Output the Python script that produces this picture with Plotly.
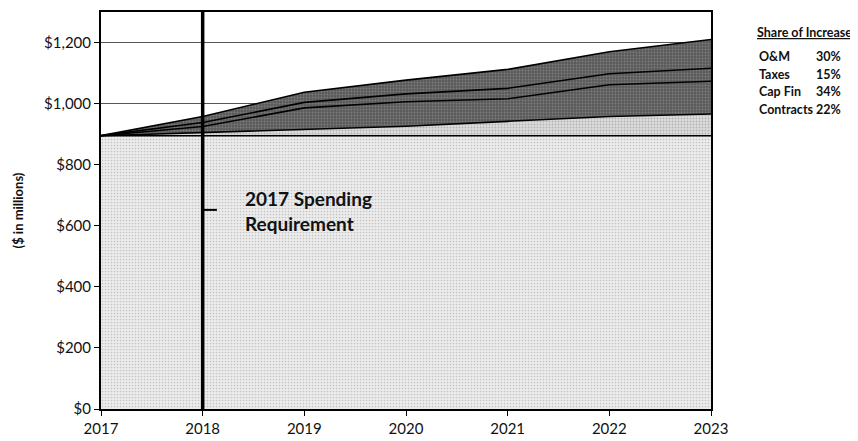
import plotly.graph_objects as go

years = [2017, 2018, 2019, 2020, 2021, 2022, 2023]
base_2017 = [895, 895, 895, 895, 895, 895, 895]
contracts = [0, 11, 22, 31, 47, 63, 71]
cap_fin = [0, 19, 69, 80, 74, 104, 107]
taxes = [0, 13, 18, 26, 34, 36, 43]
om = [0, 20, 33, 45, 62, 72, 94]

share_labels = ["O&M", "Taxes", "Cap Fin", "Contracts"]
share_pcts = ["30%", "15%", "34%", "22%"]

y_ticks = [0, 200, 400, 600, 800, 1000, 1200]
y_ticktext = ["$0", "$200", "$400", "$600", "$800", "$1,000", "$1,200"]

FONT = "Lato"

fig = go.Figure()

def add_layer(vals, bg, fg, sol):
    fig.add_trace(go.Scatter(
        x=years, y=vals, mode="lines", stackgroup="one",
        line=dict(color="black", width=1.6),
        fillcolor=bg,
        fillpattern=dict(shape=".", bgcolor=bg, fgcolor=fg, size=3, solidity=sol),
        hoverinfo="skip", showlegend=False,
    ))

add_layer(base_2017, "#ececec", "#9a9a9a", 0.25)
add_layer(contracts, "#dcdcdc", "#8a8a8a", 0.3)
add_layer(cap_fin, "#5a5a5a", "#a0a0a0", 0.3)
add_layer(taxes, "#5a5a5a", "#a0a0a0", 0.3)
add_layer(om, "#5a5a5a", "#a0a0a0", 0.3)

# 2018 vertical marker and bracket tick
fig.add_shape(type="line", x0=2018, x1=2018, y0=0, y1=1300, xref="x", yref="y",
              line=dict(color="black", width=3.5))
fig.add_shape(type="line", x0=2018, x1=2018.14, y0=652, y1=652, xref="x", yref="y",
              line=dict(color="black", width=2))

fig.add_annotation(x=2018.4, y=648, xref="x", yref="y", xanchor="left", yanchor="middle",
                   text="<b>2017 Spending<br>Requirement</b>", showarrow=False, align="left",
                   font=dict(family=FONT, size=19, color="#111"))

# Share of increase table
fig.add_annotation(xref="paper", yref="paper", x=1.072, y=0.925, xanchor="left", yanchor="bottom",
                   text="<b><u>Share of Increase</u></b>", showarrow=False,
                   font=dict(family=FONT, size=12.5, color="#111"))
row_y = [0.887, 0.843, 0.799, 0.754]
for lab, pct, yy in zip(share_labels, share_pcts, row_y):
    fig.add_annotation(xref="paper", yref="paper", x=1.075, y=yy, xanchor="left", yanchor="middle",
                       text=f"<b>{lab}</b>", showarrow=False,
                       font=dict(family=FONT, size=12.5, color="#111"))
    fig.add_annotation(xref="paper", yref="paper", x=1.216, y=yy, xanchor="right", yanchor="middle",
                       text=f"<b>{pct}</b>", showarrow=False,
                       font=dict(family=FONT, size=12.5, color="#111"))

# page body has an 8px margin; size the figure so the plot area lands where the reference has it
fig.update_layout(
    width=850, height=433,
    margin=dict(l=93, r=147, t=4, b=32, autoexpand=False),
    paper_bgcolor="white", plot_bgcolor="white",
    font=dict(family=FONT, color="#111"),
)
fig.update_xaxes(
    range=[2017, 2023], tickvals=years, ticktext=[str(y) for y in years],
    showgrid=False, zeroline=False, automargin=False,
    showline=True, linecolor="black", linewidth=2, mirror=True,
    ticks="outside", ticklen=5, tickcolor="black",
    tickfont=dict(family=FONT, size=15, color="#111"),
)
fig.update_yaxes(
    range=[0, 1300], tickvals=y_ticks, ticktext=y_ticktext,
    showgrid=True, gridcolor="#555", gridwidth=1, zeroline=False, automargin=False,
    showline=True, linecolor="black", linewidth=2, mirror=True,
    ticks="outside", ticklen=5, tickcolor="black",
    tickfont=dict(family=FONT, size=15, color="#111"),
    title=dict(text="<b>($ in millions)</b>", font=dict(family=FONT, size=13, color="#111"), standoff=18),
)

fig.write_html("out.html")
